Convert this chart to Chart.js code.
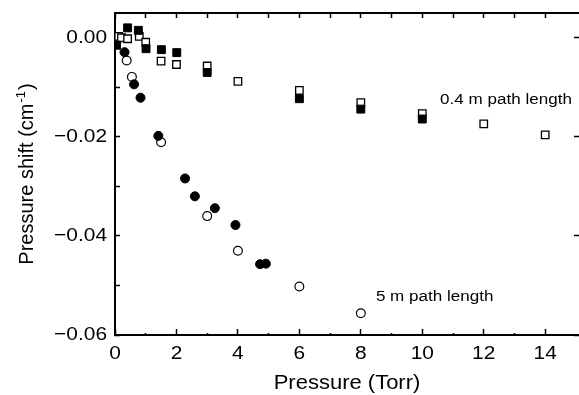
<!DOCTYPE html>
<html>
<head>
<meta charset="utf-8">
<script src="https://cdn.jsdelivr.net/npm/chart.js@4/dist/chart.umd.min.js"></script>
<style>
html, body { margin: 0; padding: 0; background: #fff; }
canvas { display: block; }
</style>
</head>
<body>
<canvas id="chart" width="579" height="395"></canvas>
<script>
// ---- data ----
// 0.4 m path length, filled squares
const filledSquarePressure = [0.05, 0.41, 0.76, 1.01, 1.51, 2.01, 3.0, 6.0, 8.0, 10.0];
const filledSquareShift    = [-0.0015, 0.0020, 0.0015, -0.0022, -0.0024, -0.0030, -0.0070, -0.0123, -0.0144, -0.0164];
// 0.4 m path length, open squares
const openSquarePressure = [0.12, 0.21, 0.41, 0.79, 1.0, 1.5, 2.0, 3.0, 4.0, 6.0, 8.0, 10.0, 12.0, 14.0];
const openSquareShift    = [0.0003, 0.0, -0.0002, 0.0003, -0.0009, -0.0047, -0.0054, -0.0057, -0.0088, -0.0106, -0.0131, -0.0153, -0.0174, -0.0196];
// 5 m path length, filled circles
const filledCirclePressure = [0.31, 0.62, 0.83, 1.41, 2.28, 2.6, 3.25, 3.92, 4.72, 4.91];
const filledCircleShift    = [-0.0029, -0.0094, -0.0121, -0.0198, -0.0284, -0.0320, -0.0344, -0.0378, -0.0457, -0.0456];
// 5 m path length, open circles
const openCirclePressure = [0.38, 0.55, 1.5, 3.0, 4.0, 6.0, 8.0];
const openCircleShift    = [-0.0046, -0.0079, -0.0211, -0.0360, -0.0430, -0.0502, -0.0556];

// axis ticks
const xTickValues = [0, 1, 2, 3, 4, 5, 6, 7, 8, 9, 10, 11, 12, 13, 14];
const xTickLabels = ['0', '', '2', '', '4', '', '6', '', '8', '', '10', '', '12', '', '14'];
const yTickValues = [-0.06, -0.05, -0.04, -0.03, -0.02, -0.01, 0.0];
const yTickLabels = ['\u22120.06', '', '\u22120.04', '', '\u22120.02', '', '0.00'];

// text labels
const xTitle = 'Pressure (Torr)';
const yTitleMain = 'Pressure shift (cm';
const yTitleSup = '-1';
const yTitleEnd = ')';
const noteTexts = ['0.4 m path length', '5 m path length'];
const notePressure = [10.58, 8.49];
const noteShift = [-0.0125, -0.0523];

// ---- chart ----
const FONT = '"Liberation Sans", Arial, Helvetica, sans-serif';
const TEXT_STRETCH = 1.1;   // the reference lettering is slightly wide
const pts = (xs, ys) => xs.map((v, i) => ({ x: v, y: ys[i] }));

// horizontal lettering widened a little, as in the reference
const stretchPlugin = {
  id: 'stretchText',
  beforeDraw(chart) {
    const ctx = chart.ctx;
    if (ctx._origFillText) return;
    const orig = ctx.fillText;
    ctx._origFillText = orig;
    ctx.fillText = function (text, x, y) {
      this.save();
      this.translate(x, y);
      this.scale(TEXT_STRETCH, 1);
      orig.call(this, text, 0, 0);
      this.restore();
    };
  }
};

const textPlugin = {
  id: 'extraTexts',
  afterDraw(chart) {
    const { ctx, chartArea } = chart;
    const xs = chart.scales.x, ys = chart.scales.y;
    ctx.save();
    ctx.fillStyle = '#000';
    ctx.font = '15.5px ' + FONT;
    ctx.textAlign = 'left';
    ctx.textBaseline = 'middle';
    noteTexts.forEach((t, i) => {
      ctx.fillText(t, xs.getPixelForValue(notePressure[i]), ys.getPixelForValue(noteShift[i]));
    });
    ctx.restore();

    // y axis title with superscript (rotated, not widened)
    const plain = ctx._origFillText || ctx.fillText;
    ctx.save();
    ctx.fillStyle = '#000';
    const cy = (chartArea.top + chartArea.bottom) / 2;
    ctx.translate(33, cy);
    ctx.rotate(-Math.PI / 2);
    ctx.textBaseline = 'alphabetic';
    ctx.textAlign = 'left';
    const mainFont = '20px ' + FONT, supFont = '13px ' + FONT;
    ctx.font = mainFont;
    const w1 = ctx.measureText(yTitleMain).width;
    const w3 = ctx.measureText(yTitleEnd).width;
    ctx.font = supFont;
    const w2 = ctx.measureText(yTitleSup).width;
    const x0 = -(w1 + w2 + w3 + 2) / 2;
    ctx.font = mainFont;
    plain.call(ctx, yTitleMain, x0, 0);
    ctx.font = supFont;
    plain.call(ctx, yTitleSup, x0 + w1 + 1, -8);
    ctx.font = mainFont;
    plain.call(ctx, yTitleEnd, x0 + w1 + w2 + 2, 0);
    ctx.restore();
  }
};

const XMIN = 0, XMAX = 15.1, YMIN = -0.06, YMAX = 0.005;

function fixPadding(s) {
  s.paddingLeft = 0; s.paddingRight = -2; s.paddingTop = 0; s.paddingBottom = 0;
}

function frameAxis(position, axis, extra) {
  return Object.assign({
    type: 'linear',
    position: position,
    axis: axis,
    min: axis === 'x' ? XMIN : YMIN,
    max: axis === 'x' ? XMAX : YMAX,
    ticks: { display: false },
    grid: { drawOnChartArea: false, tickLength: -5, tickColor: '#000', tickWidth: 1.5 },
    border: { display: true, color: '#000', width: 2 },
    afterBuildTicks: s => { s.ticks = (axis === 'x' ? xTickValues : yTickValues).map(v => ({ value: v })); },
    afterFit: s => { if (axis === 'x') s.height = 0; else s.width = 0; fixPadding(s); }
  }, extra || {});
}

new Chart(document.getElementById('chart'), {
  type: 'scatter',
  data: {
    datasets: [
      { label: 'filled squares', data: pts(filledSquarePressure, filledSquareShift),
        pointStyle: 'rect', pointRadius: 5.6, backgroundColor: '#000', borderColor: '#000', borderWidth: 1 },
      { label: 'filled circles', data: pts(filledCirclePressure, filledCircleShift),
        pointStyle: 'circle', pointRadius: 4.5, backgroundColor: '#000', borderColor: '#000', borderWidth: 1 },
      { label: 'open squares', data: pts(openSquarePressure, openSquareShift),
        pointStyle: 'rect', pointRadius: 5.3, backgroundColor: '#fff', borderColor: '#000', borderWidth: 1.3 },
      { label: 'open circles', data: pts(openCirclePressure, openCircleShift),
        pointStyle: 'circle', pointRadius: 4.4, backgroundColor: '#fff', borderColor: '#000', borderWidth: 1.2 }
    ]
  },
  options: {
    responsive: false,
    animation: false,
    devicePixelRatio: 1,
    events: [],
    layout: { autoPadding: false, padding: { top: 13, right: -2, left: 0, bottom: 0 } },
    plugins: { legend: { display: false }, tooltip: { enabled: false } },
    scales: {
      x: {
        type: 'linear', position: 'bottom', min: XMIN, max: XMAX,
        ticks: {
          autoSkip: false, maxRotation: 0, padding: 13, color: '#000',
          font: { size: 19, family: FONT },
          callback: (v, i) => xTickLabels[i]
        },
        grid: {
          drawOnChartArea: false, tickLength: -6, tickColor: '#000', tickWidth: 1.5,
          tickBorderDash: ctx => (ctx.tick && Math.round(ctx.tick.value) % 2 !== 0) ? [3, 100] : []
        },
        border: { display: true, color: '#000', width: 2 },
        title: { display: true, text: xTitle, color: '#000', font: { size: 20, family: FONT }, padding: { top: 0, bottom: 0 } },
        afterBuildTicks: s => { s.ticks = xTickValues.map(v => ({ value: v })); },
        afterFit: s => { s.height = 60; fixPadding(s); }
      },
      y: {
        type: 'linear', position: 'left', min: YMIN, max: YMAX,
        ticks: {
          autoSkip: false, padding: 13, color: '#000',
          font: { size: 19, family: FONT },
          callback: (v, i) => yTickLabels[i]
        },
        grid: { drawOnChartArea: false, tickLength: -5, tickColor: '#000', tickWidth: 1.5 },
        border: { display: true, color: '#000', width: 2 },
        afterBuildTicks: s => { s.ticks = yTickValues.map(v => ({ value: v })); },
        afterFit: s => { s.width = 115; fixPadding(s); }
      },
      xTop: frameAxis('top', 'x'),
      yRight: frameAxis('right', 'y', {
        border: { display: false },
        grid: {
          drawOnChartArea: false, tickLength: -5, tickWidth: 1.5,
          tickColor: ctx => (ctx.tick && Math.round(ctx.tick.value * 100) % 2 !== 0) ? 'rgba(0,0,0,0)' : '#000'
        }
      })
    }
  },
  plugins: [stretchPlugin, textPlugin]
});
</script>
</body>
</html>
